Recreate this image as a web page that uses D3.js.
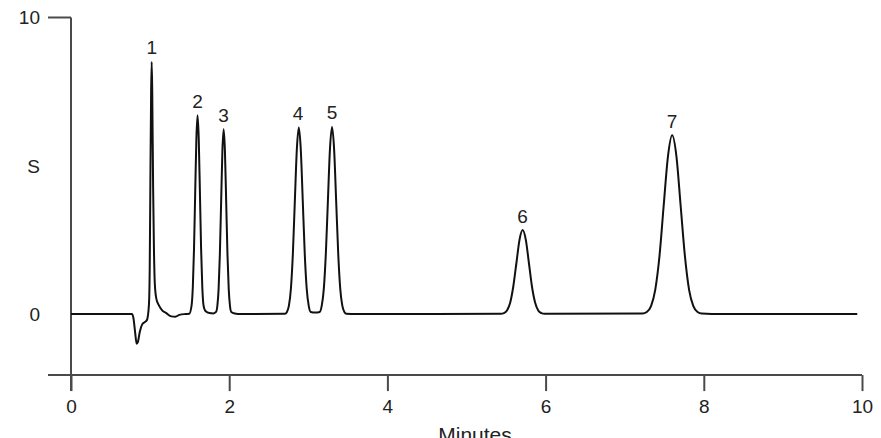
<!DOCTYPE html>
<html>
<head>
<meta charset="utf-8">
<script src="https://cdn.jsdelivr.net/npm/d3@7"></script>
<style>
  html, body { margin: 0; padding: 0; background: #fff; }
  svg { display: block; font-family: "Liberation Sans", Arial, sans-serif; }
</style>
</head>
<body>
<svg id="chart" width="881" height="438"></svg>
<script>
// ---- data ----
const xTicks = [0, 2, 4, 6, 8, 10];
const yTickValues = [0, 10];
const yTickLabels = ["0", "10"];
const yAxisTitle = "S";
const xAxisTitle = "Minutes";

const peakLabels = ["1", "2", "3", "4", "5", "6", "7"];
const peakTimes = [1.02, 1.60, 1.93, 2.87, 3.30, 5.71, 7.60];
const peakHeights = [8.5, 6.7, 6.23, 6.29, 6.31, 2.83, 6.03];

const traceTime = [
  0, 0.77, 0.79, 0.81, 0.83, 0.845, 0.87, 0.90, 0.93, 0.96,
  0.985, 0.995, 1.003, 1.013, 1.02, 1.027, 1.038, 1.048, 1.06, 1.08,
  1.11, 1.15, 1.2, 1.27, 1.32, 1.37, 1.45, 1.495,
  1.525, 1.54, 1.555, 1.57, 1.585, 1.60, 1.615, 1.63, 1.645, 1.66, 1.675, 1.70, 1.75, 1.80,
  1.834, 1.85, 1.866, 1.882, 1.898, 1.914, 1.93, 1.946, 1.962, 1.978, 1.994, 2.01, 2.026, 2.07, 2.15,
  2.705, 2.73, 2.755, 2.78, 2.805, 2.83, 2.855, 2.88, 2.905, 2.93, 2.955, 2.98, 3.005, 3.03, 3.09,
  3.144, 3.17, 3.196, 3.222, 3.248, 3.274, 3.30, 3.326, 3.352, 3.378, 3.404, 3.43, 3.456, 3.482, 3.6,
  5.434, 5.473, 5.512, 5.552, 5.591, 5.631, 5.67, 5.71, 5.75, 5.789, 5.828, 5.868, 5.907, 5.947, 5.986,
  7.225, 7.279, 7.333, 7.386, 7.44, 7.493, 7.547, 7.60, 7.654, 7.707, 7.761, 7.814, 7.868, 7.921, 7.975, 8.1, 9.94
];
const traceSignal = [
  0, 0, -0.15, -0.6, -1.0, -0.95, -0.6, -0.35, -0.28, -0.2,
  0.3, 1.5, 4.3, 7.5, 8.5, 7.5, 4.3, 2.3, 1.0, 0.5,
  0.3, 0.13, 0.04, -0.08, -0.09, -0.03, 0.0, 0.01,
  0.3, 0.9, 2.18, 4.07, 5.91, 6.7, 5.91, 4.07, 2.18, 0.9, 0.3, 0.1, 0.03, 0.02,
  0.07, 0.27, 0.84, 2.02, 3.78, 5.50, 6.23, 5.50, 3.78, 2.02, 0.84, 0.27, 0.07, 0.02, 0,
  0.01, 0.07, 0.28, 0.85, 2.04, 3.82, 5.55, 6.29, 5.55, 3.82, 2.04, 0.85, 0.28, 0.07, 0.05,
  0.07, 0.28, 0.85, 2.05, 3.83, 5.57, 6.31, 5.57, 3.83, 2.05, 0.85, 0.28, 0.07, 0.01, 0,
  0.006, 0.03, 0.12, 0.38, 0.92, 1.72, 2.50, 2.83, 2.50, 1.72, 0.92, 0.38, 0.12, 0.03, 0.006,
  0.013, 0.067, 0.265, 0.816, 1.96, 3.66, 5.32, 6.03, 5.32, 3.66, 1.96, 0.816, 0.265, 0.067, 0.013, 0, 0
];

// ---- layout ----
const svg = d3.select("#chart");
const axisColor = "#4a4a4a";
const textColor = "#222";
const fontSize = 19;

const x = d3.scaleLinear().domain([0, 10]).range([71, 862]);
const y = d3.scaleLinear().domain([0, 10]).range([314, 17.5]);
const yAxisBottomValue = -2.06;   // where x axis sits
const xAxisY = y(yAxisBottomValue);

// x axis
const xAxis = d3.axisBottom(x)
  .tickValues(xTicks)
  .tickSize(16)
  .tickSizeOuter(0)
  .tickPadding(8)
  .tickFormat(d3.format("d"));
const gx = svg.append("g").attr("transform", `translate(0,${xAxisY})`).call(xAxis);
gx.select(".domain").remove();
gx.selectAll(".tick line").attr("stroke", axisColor).attr("stroke-width", 2);
gx.selectAll(".tick text").attr("fill", textColor).attr("font-size", fontSize)
  .attr("font-family", "Liberation Sans, Arial, sans-serif");
svg.append("line")
  .attr("x1", x(0) - 23).attr("x2", x(10))
  .attr("y1", xAxisY).attr("y2", xAxisY)
  .attr("stroke", axisColor).attr("stroke-width", 2);

// y axis line (extends down to x tick length)
svg.append("line")
  .attr("x1", x(0)).attr("x2", x(0))
  .attr("y1", y(10)).attr("y2", xAxisY + 16)
  .attr("stroke", axisColor).attr("stroke-width", 2);
// tick at 10
svg.append("line")
  .attr("x1", x(0) - 23).attr("x2", x(0))
  .attr("y1", y(10)).attr("y2", y(10))
  .attr("stroke", axisColor).attr("stroke-width", 2);

// y tick labels
svg.selectAll("text.ylab").data(yTickValues).enter().append("text")
  .attr("class", "ylab")
  .attr("x", 40)
  .attr("y", d => y(d))
  .attr("dy", "0.36em")
  .attr("text-anchor", "end")
  .attr("fill", textColor)
  .attr("font-size", fontSize)
  .text((d, i) => yTickLabels[i]);

// y title
svg.append("text")
  .attr("x", 40).attr("y", y(5))
  .attr("dy", "0.36em")
  .attr("text-anchor", "end")
  .attr("fill", textColor)
  .attr("font-size", fontSize)
  .text(yAxisTitle);

// x title (partly cut off at the bottom edge, as in the reference)
svg.append("text")
  .attr("x", 475).attr("y", 442)
  .attr("text-anchor", "middle")
  .attr("fill", textColor)
  .attr("font-size", 21)
  .text(xAxisTitle);

// trace
const points = d3.zip(traceTime, traceSignal);
const line = d3.line()
  .x(d => x(d[0]))
  .y(d => y(d[1]))
  .curve(d3.curveMonotoneX);
svg.append("path")
  .datum(points)
  .attr("d", line)
  .attr("fill", "none")
  .attr("stroke", "#111")
  .attr("stroke-width", 2)
  .attr("stroke-linejoin", "round");

// peak labels
svg.selectAll("text.peak").data(peakLabels).enter().append("text")
  .attr("class", "peak")
  .attr("x", (d, i) => x(peakTimes[i]))
  .attr("y", (d, i) => y(peakHeights[i]) - 7.5)
  .attr("text-anchor", "middle")
  .attr("fill", textColor)
  .attr("font-size", fontSize)
  .text(d => d);
</script>
</body>
</html>
